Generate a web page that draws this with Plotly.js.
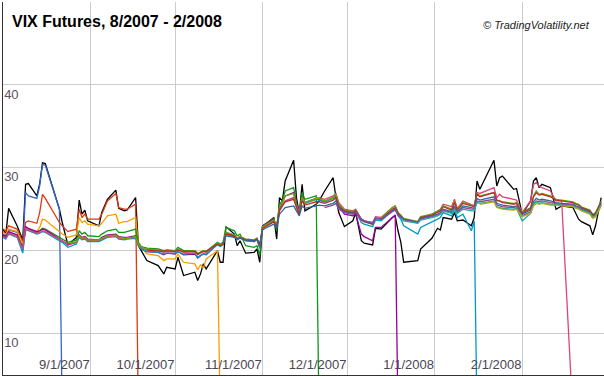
<!DOCTYPE html>
<html>
<head>
<meta charset="utf-8">
<script src="https://cdn.plot.ly/plotly-3.0.1.min.js"></script>
<style>html,body{margin:0;padding:0;background:#fff;}#chart{width:604px;height:376px;}</style>
</head>
<body>
<div id="chart"></div>
<script>
const dates = [
'2007-08-01','2007-08-02','2007-08-03','2007-08-06','2007-08-08','2007-08-09','2007-08-10','2007-08-13','2007-08-14','2007-08-15',
'2007-08-16','2007-08-21','2007-08-22','2007-08-24','2007-08-27','2007-08-28','2007-08-29','2007-08-30','2007-08-31','2007-09-04',
'2007-09-05','2007-09-07','2007-09-10','2007-09-11','2007-09-13','2007-09-14','2007-09-17','2007-09-18','2007-09-19','2007-09-21',
'2007-09-25','2007-09-27','2007-09-28','2007-10-01','2007-10-02','2007-10-04','2007-10-08','2007-10-09','2007-10-10','2007-10-11',
'2007-10-12','2007-10-16','2007-10-17','2007-10-18','2007-10-19','2007-10-22','2007-10-23','2007-10-24','2007-10-26','2007-10-29',
'2007-10-30','2007-10-31','2007-11-01','2007-11-02','2007-11-05','2007-11-06','2007-11-07','2007-11-08','2007-11-09','2007-11-12',
'2007-11-13','2007-11-14','2007-11-15','2007-11-16','2007-11-20','2007-11-21','2007-11-23','2007-11-26','2007-11-27','2007-11-28',
'2007-11-30','2007-12-03','2007-12-04','2007-12-06','2007-12-07','2007-12-10','2007-12-11','2007-12-13','2007-12-17','2007-12-18',
'2007-12-19','2007-12-20','2007-12-21','2007-12-26','2007-12-27','2007-12-31','2008-01-02','2008-01-03','2008-01-04','2008-01-07',
'2008-01-08','2008-01-09','2008-01-11','2008-01-14','2008-01-15','2008-01-16','2008-01-17','2008-01-22','2008-01-23','2008-01-24',
'2008-01-25','2008-01-29','2008-01-30','2008-02-01','2008-02-04','2008-02-05','2008-02-06','2008-02-07','2008-02-08','2008-02-11',
'2008-02-13','2008-02-15','2008-02-19','2008-02-20','2008-02-21','2008-02-22','2008-02-25','2008-02-26','2008-02-27','2008-02-29'
];

const vix = [
22.6,22.0,25.1,23.0,21.3,28.0,28.1,26.6,28.1,30.6,
30.5,25.0,23.4,20.7,21.6,26.1,24.4,24.9,23.6,23.0,
24.6,26.2,27.3,25.1,24.8,24.9,26.4,20.6,20.0,18.8,
18.2,17.2,18.0,17.8,19.2,17.0,17.4,16.4,17.2,18.4,
17.8,20.0,18.6,18.6,22.9,22.0,20.6,21.2,19.7,19.8,
20.2,18.6,23.0,23.2,24.0,21.4,26.4,26.0,28.4,30.9,
26.4,24.4,28.0,24.8,25.6,26.0,27.2,28.8,26.4,24.6,
22.9,23.6,24.6,21.2,20.9,20.7,22.7,22.6,24.0,24.2,
22.4,21.0,18.6,18.8,20.2,21.5,22.7,22.5,24.0,23.8,
24.6,23.6,23.7,23.0,24.0,28.4,27.4,30.9,27.8,28.8,
29.0,27.4,27.5,24.4,26.0,28.4,28.8,27.6,28.0,27.6,
25.0,25.4,25.2,24.5,23.8,23.5,23.0,21.9,23.0,26.4
];

// futures contracts: values start at the listed first date; a final 0 marks expiry
const aug07 = [22.0,21.8,22.5,22.2,20.4,27.0,26.6,26.3,27.8,30.4, 30.3,25.0,0];
const sep07 = [
22.6,22.4,23.0,22.6,21.0,23.4,23.6,23.3,24.6,26.8,
26.3,23.4,23.0,22.3,22.6,25.0,24.0,24.4,23.8,23.8,
24.4,26.0,26.9,25.2,25.0,25.0,25.6,0];
const oct07 = [
22.2,22.0,22.6,22.3,20.8,22.3,22.6,22.3,22.8,23.8,
23.7,22.3,22.0,21.6,21.9,24.0,23.4,23.6,23.2,23.0,
23.3,24.2,24.4,23.3,23.5,23.5,24.0,20.8,20.4,19.6,
19.4,18.8,19.0,19.0,19.6,18.6,18.4,17.7,18.3,17.9,
19.0,20.0,0];
const nov07 = [
21.8,21.6,22.2,21.9,20.3,22.6,22.6,22.2,22.4,22.7,
22.6,21.6,21.3,21.0,21.3,22.4,22.0,22.2,21.8,21.7,
22.0,22.4,22.6,22.2,22.2,22.3,22.6,21.0,20.5,20.3,
20.2,20.0,20.1,20.0,20.4,20.0,20.0,19.6,19.8,20.0,
19.9,21.0,20.8,21.0,22.8,22.4,21.8,22.0,20.6,20.4,
20.6,19.4,23.0,23.2,23.9,22.4,25.6,26.0,27.2,27.6,
25.8,24.6,27.0,26.2,26.6,0];
const dec07 = [
21.9,21.7,22.3,21.9,20.1,22.9,22.7,22.3,22.4,22.6,
22.5,21.4,21.2,20.7,21.0,21.9,21.6,21.7,21.4,21.3,
21.6,21.9,22.0,21.7,21.6,21.6,21.8,20.7,20.2,19.9,
19.8,19.5,19.7,19.6,19.9,19.5,19.6,19.1,19.4,19.6,
19.5,20.8,20.6,20.8,22.2,21.8,21.4,21.6,21.2,21.1,
21.4,20.3,23.0,23.2,23.8,22.8,25.2,25.8,26.6,27.0,
25.6,24.6,26.6,25.8,26.3,26.2,25.9,26.4,26.8,25.4,
24.4,24.2,24.4,22.0,21.7,21.2,22.8,22.8,24.1,24.3,
0];
const jan08 = [
21.6,21.4,22.0,21.6,19.7,22.6,22.4,22.0,22.1,22.3,
22.2,21.2,21.0,20.4,20.8,21.6,21.3,21.4,21.1,21.1,
21.3,21.6,21.7,21.4,21.3,21.4,21.5,20.6,20.2,19.9,
19.8,19.6,19.7,19.7,19.9,19.6,19.7,19.2,19.4,19.6,
19.6,20.7,20.5,20.7,22.0,21.7,21.3,21.5,21.2,21.1,
21.3,20.3,22.7,22.9,23.5,22.8,24.8,25.4,26.0,26.4,
25.2,24.4,26.4,25.7,26.2,26.1,25.9,26.3,26.7,25.3,
24.7,24.5,24.7,23.4,23.2,22.9,23.7,23.6,24.9,25.1,
24.2,23.8,23.0,22.0,22.8,23.4,23.8,24.0,24.6,24.2,
25.0,24.0,24.4,22.4,23.6,0];
const feb08 = [
21.7,21.5,22.1,21.7,20.2,22.7,22.5,22.1,22.2,22.4,
22.3,21.3,21.1,20.8,21.0,21.7,21.4,21.5,21.2,21.2,
21.4,21.7,21.8,21.5,21.4,21.5,21.6,20.8,20.4,20.1,
20.0,19.8,19.9,19.9,20.1,19.8,19.9,19.5,19.7,19.9,
19.8,20.9,20.7,20.9,22.0,21.8,21.5,21.7,21.4,21.3,
21.5,20.6,22.8,23.0,23.6,23.0,24.9,25.4,26.0,26.4,
25.4,24.6,26.4,25.8,26.3,26.4,26.2,26.6,26.9,25.8,
25.0,24.8,25.0,23.8,23.6,23.3,24.1,24.0,25.2,25.4,
24.6,24.2,23.8,23.5,24.0,24.4,24.8,25.0,25.6,25.3,
26.2,25.1,26.0,25.6,25.4,27.0,26.9,27.6,26.4,26.8,
26.5,26.2,26.1,24.6,26.0,28.0,28.2,27.8,27.6,27.2,
26.0,26.0,0];
const mar08 = [
20.9,21.1,21.8,21.5,21.6,21.3,21.3,
21.5,21.8,21.9,21.6,21.5,21.5,21.7,20.8,20.4,20.2,
20.1,19.9,20.0,20.0,20.2,19.9,20.0,19.7,19.8,20.0,
19.9,20.9,20.7,20.9,22.2,21.9,21.5,21.7,21.4,21.3,
21.5,20.6,22.9,23.1,23.7,23.0,25.3,25.8,26.6,26.9,
25.4,24.5,26.5,25.8,26.3,26.3,26.0,26.4,26.8,25.6,
24.9,24.7,24.9,23.7,23.5,23.2,24.0,23.9,25.2,25.4,
24.6,24.3,23.9,23.5,24.1,24.4,24.7,24.9,25.4,25.0,
26.0,25.0,25.8,25.5,25.4,26.9,26.6,27.0,26.0,26.0,
25.9,25.7,25.8,24.6,25.2,26.6,27.2,26.8,26.9,26.6,
26.2,26.1,25.9,25.7,25.6,25.3,24.9,24.4,24.6,26.0];
const apr08 = [
20.1,
20.0,19.9,20.0,19.9,20.1,19.9,19.9,19.6,19.8,19.9,
19.9,20.8,20.6,20.8,22.0,21.8,21.4,21.6,21.3,21.2,
21.4,20.6,22.7,22.9,23.5,22.9,24.9,25.4,25.9,26.2,
25.2,24.4,26.0,25.5,25.9,25.9,25.7,26.1,26.4,25.4,
24.8,24.6,24.8,23.7,23.5,23.2,23.9,23.8,25.0,25.2,
24.5,24.2,23.8,23.4,24.0,24.3,24.6,24.8,25.3,24.9,
25.8,24.9,25.7,25.4,25.3,26.8,26.5,27.0,26.1,26.0,
25.8,25.6,25.7,24.5,25.1,26.5,27.0,26.7,26.8,26.5,
26.1,26.0,25.8,25.6,25.5,25.2,24.8,24.3,24.5,25.9];
const may08 = [
20.9,21.8,21.6,21.4,21.5,21.3,21.2,
21.4,20.8,22.5,22.7,23.2,22.8,24.4,24.8,25.2,25.4,
24.8,24.2,25.4,25.1,25.4,25.5,25.4,25.7,26.0,25.2,
24.7,24.5,24.7,23.8,23.6,23.3,23.9,23.8,24.8,25.0,
24.4,24.1,23.8,23.4,23.9,24.2,24.4,24.6,25.0,24.7,
25.4,24.7,25.4,25.2,25.1,26.3,26.1,26.5,25.7,25.6,
25.5,25.3,25.4,24.4,24.9,25.9,26.3,26.1,26.2,26.0,
25.8,25.7,25.6,25.4,25.3,25.1,24.7,24.2,24.4,25.7];
const jun08 = [
25.2,25.5,25.7,25.0,
24.6,24.4,24.6,23.8,23.6,23.4,23.9,23.8,24.7,24.9,
24.3,24.0,23.7,23.4,23.8,24.1,24.3,24.5,24.9,24.6,
25.2,24.6,25.2,25.0,25.0,26.0,25.9,26.2,25.5,25.4,
25.3,25.2,25.3,24.2,24.7,25.6,26.0,25.9,26.0,25.8,
25.7,25.6,25.5,25.3,25.2,25.0,24.6,24.1,24.3,25.6];
const jul08 = [
23.9,23.6,23.3,23.7,24.0,24.2,24.4,24.8,24.5,
25.0,24.5,25.0,24.8,24.8,25.8,25.7,26.0,25.3,25.2,
25.1,25.0,25.1,23.6,24.5,25.6,25.9,25.7,25.8,25.6,
25.6,25.5,25.4,25.2,25.1,24.9,24.5,24.0,24.2,25.5];
const aug08 = [
25.6,25.9,25.2,25.1,
25.0,24.9,25.0,24.1,24.5,25.4,25.7,25.6,25.7,25.5,
25.5,25.4,25.3,25.1,25.0,24.8,24.4,23.9,24.1,25.4];

const seriesNames = ['Aug 07','Sep 07','Oct 07','Nov 07','Dec 07','Jan 08','Feb 08','Mar 08','Apr 08','May 08','Jun 08','Jul 08','Aug 08'];
const seriesValues = [aug07,sep07,oct07,nov07,dec07,jan08,feb08,mar08,apr08,may08,jun08,jul08,aug08];
const seriesFirstDate = ['2007-08-01','2007-08-01','2007-08-01','2007-08-01','2007-08-01','2007-08-01','2007-08-01',
  '2007-08-24','2007-09-21','2007-10-18','2007-11-23','2007-12-20','2008-01-17'];
const seriesColors = ['#3366cc','#dc3912','#ff9900','#109618','#990099','#0099c6','#dd4477',
  '#66aa00','#b82e2e','#316395','#994499','#22aa99','#aaaa11'];

const tickDates = ['2007-09-01','2007-10-01','2007-11-01','2007-12-01','2008-01-01','2008-02-01'];
const tickLabels = ['9/1/2007','10/1/2007','11/1/2007','12/1/2007','1/1/2008','2/1/2008'];
const yTicks = [10,20,30,40,50];
const yLabels = ['10','20','30','40',''];

const traces = [{
  x: dates, y: vix, name: 'VIX', type: 'scatter', mode: 'lines',
  line: {color: '#000000', width: 1.3}
}];
seriesValues.forEach((vals, i) => {
  const i0 = dates.indexOf(seriesFirstDate[i]);
  traces.push({
    x: dates.slice(i0, i0 + vals.length), y: vals, name: seriesNames[i],
    type: 'scatter', mode: 'lines',
    line: {color: seriesColors[i], width: 1.3}
  });
});

const font = 'Liberation Sans, Arial, sans-serif';
const layout = {
  width: 604, height: 376,
  margin: {l: 3, r: 0, t: 2, b: 1, pad: 0},
  paper_bgcolor: '#ffffff', plot_bgcolor: '#ffffff',
  showlegend: false,
  title: {
    text: 'VIX Futures, 8/2007 - 2/2008',
    font: {family: font, size: 16, color: '#000000', weight: 'bold'},
    xref: 'container', x: 12/604, xanchor: 'left',
    yref: 'container', y: 1 - 21/376, yanchor: 'middle'
  },
  xaxis: {
    type: 'date', range: ['2007-08-01', '2008-03-01'],
    tickvals: tickDates, ticktext: tickLabels,
    ticklabelposition: 'inside left',
    ticks: '', showgrid: true, gridcolor: '#cccccc', gridwidth: 1,
    showline: true, linecolor: '#333333', linewidth: 1.5,
    zeroline: false,
    tickfont: {family: font, size: 13, color: '#4a4552'}
  },
  yaxis: {
    range: [5, 50], tickvals: yTicks, ticktext: yLabels,
    ticklabelposition: 'inside bottom',
    ticks: '', showgrid: true, gridcolor: '#cccccc', gridwidth: 1,
    showline: true, linecolor: '#333333', linewidth: 1.5,
    zeroline: false,
    tickfont: {family: font, size: 13, color: '#5e5060'}
  },
  annotations: [{
    text: '© TradingVolatility.net', showarrow: false,
    xref: 'paper', x: (592 - 3) / 601, xanchor: 'right',
    yref: 'paper', y: (375 - 25) / 373, yanchor: 'middle',
    font: {family: font, size: 11, color: '#222222', style: 'italic'}
  }]
};

Plotly.newPlot('chart', traces, layout, {staticPlot: true, displayModeBar: false});
</script>
</body>
</html>
